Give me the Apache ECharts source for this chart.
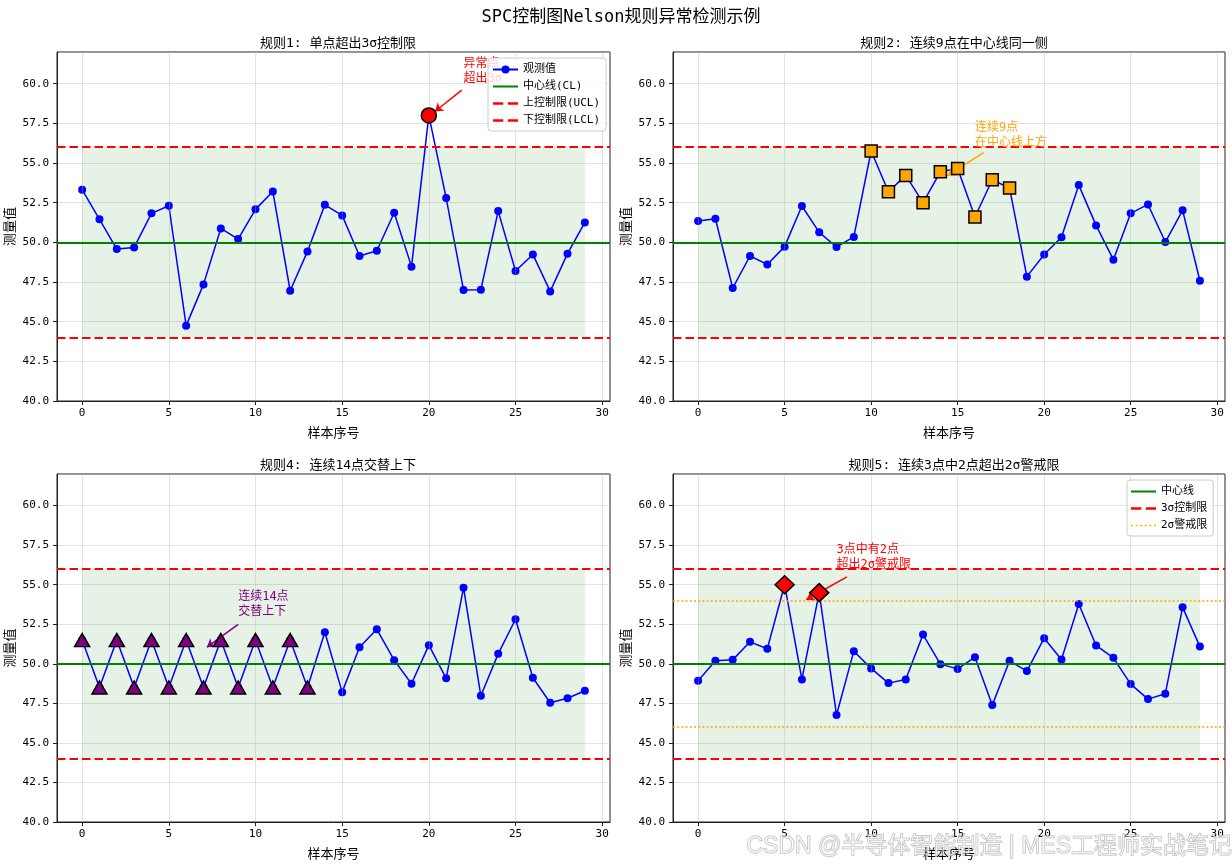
<!DOCTYPE html>
<html>
<head>
    <meta charset="utf-8">
    <title>SPC控制图Nelson规则异常检测示例</title>
    <script src="https://cdn.jsdelivr.net/npm/echarts@6/dist/echarts.min.js"></script>
    <style>
        html, body { margin: 0; padding: 0; background: #fff; }
        #main { width: 1232px; height: 865px; }
    </style>
</head>
<body>
<div id="main"></div>
<script type="text/javascript">
// 控制限
var CL = 50, UCL = 56, LCL = 44, UWL = 54, LWL = 46;

var samples = [0, 1, 2, 3, 4, 5, 6, 7, 8, 9, 10, 11, 12, 13, 14,
               15, 16, 17, 18, 19, 20, 21, 22, 23, 24, 25, 26, 27, 28, 29];
var xTicks = [0, 5, 10, 15, 20, 25, 30];

// 规则1: 单点超出3σ
var rule1Values = [53.32, 51.45, 49.58, 49.68, 51.83, 52.31, 44.75, 47.35, 50.88, 50.21,
                   52.08, 53.21, 46.95, 49.43, 52.37, 51.70, 49.14, 49.47, 51.87, 48.47,
                   58.0, 52.79, 47.0, 47.02, 51.97, 48.19, 49.24, 46.91, 49.29, 51.26];
var rule1Marks = [20];

// 规则2: 连续9点在中心线同一侧
var rule2Values = [51.34, 51.49, 47.12, 49.14, 48.61, 49.73, 52.29, 50.63, 49.71, 50.34,
                   55.76, 53.19, 54.22, 52.5, 54.45, 54.66, 51.6, 53.95, 53.42, 47.84,
                   49.24, 50.32, 53.61, 51.07, 48.91, 51.83, 52.39, 50.02, 52.02, 47.58];
var rule2Marks = [10, 11, 12, 13, 14, 15, 16, 17, 18];

// 规则4: 连续14点交替上下
var rule4Values = [51.5, 48.5, 51.5, 48.5, 51.5, 48.5, 51.5, 48.5, 51.5, 48.5,
                   51.5, 48.5, 51.5, 48.5, 52.0, 48.21, 51.05, 52.18, 50.23, 48.74,
                   51.18, 49.08, 54.81, 47.98, 50.63, 52.82, 49.12, 47.54, 47.82, 48.30];
var rule4Marks = [0, 1, 2, 3, 4, 5, 6, 7, 8, 9, 10, 11, 12, 13];

// 规则5: 连续3点中2点超出2σ
var rule5Values = [48.93, 50.19, 50.25, 51.39, 50.95, 55.0, 49.01, 54.5, 46.76, 50.8,
                   49.71, 48.78, 49.01, 51.85, 49.98, 49.68, 50.42, 47.39, 50.19, 49.54,
                   51.62, 50.27, 53.78, 51.16, 50.38, 48.72, 47.77, 48.11, 53.57, 51.09];
var rule5Marks = [5, 7];

var FONT = '"DejaVu Sans Mono", "Noto Sans CJK SC", sans-serif';
var DASH = [8.5, 4];
var DOT = [2, 2.2];
var GRID_LINE = 'rgba(176,176,176,0.35)';

// 图例图标
var ICON_SOLID = 'path://M0,0h25v2h-25z';
var ICON_DASH = 'path://M0,0h9v2h-9z M13,0h9v2h-9z';
var ICON_DOT = 'path://M0,0h1.5v1.5h-1.5z M4,0h1.5v1.5h-1.5z M8,0h1.5v1.5h-1.5z M12,0h1.5v1.5h-1.5z M16,0h1.5v1.5h-1.5z M20,0h1.5v1.5h-1.5z';

var myChart = echarts.init(document.getElementById('main'));

function pts(vals) {
    return samples.map(function (x, k) { return [x, vals[k]]; });
}
function pick(vals, idx) {
    return idx.map(function (k) { return [samples[k], vals[k]]; });
}

var grids = [
    { left: 57, top: 52, width: 553, height: 349 },
    { left: 673, top: 52, width: 552, height: 349 },
    { left: 57, top: 474, width: 553, height: 348 },
    { left: 673, top: 474, width: 552, height: 348 }
];
grids.forEach(function (g) {
    g.show = true;
    g.borderColor = '#222';
    g.borderWidth = 1;
    g.backgroundColor = 'transparent';
});

var xAxes = [], yAxes = [];
for (var i = 0; i < 4; i++) {
    xAxes.push({
        type: 'value', gridIndex: i, min: -1.45, max: 30.45,
        name: '样本序号', nameLocation: 'middle', nameGap: 26,
        nameTextStyle: { fontFamily: FONT, fontSize: 13, color: '#000' },
        axisLine: { onZero: false, lineStyle: { color: '#222' } },
        axisTick: { show: true, length: 4, customValues: xTicks, lineStyle: { color: '#222' } },
        axisLabel: { fontFamily: FONT, fontSize: 11, color: '#000', margin: 7,
                     customValues: xTicks },
        splitLine: { show: false }
    });
    yAxes.push({
        type: 'value', gridIndex: i, min: 40, max: 62, interval: 2.5,
        name: '测量值', nameLocation: 'middle', nameGap: 40, nameRotate: 90,
        nameTextStyle: { fontFamily: FONT, fontSize: 13, color: '#000' },
        axisLine: { show: true, onZero: false, lineStyle: { color: '#222' } },
        axisTick: { show: true, length: 4, lineStyle: { color: '#222' } },
        axisLabel: { fontFamily: FONT, fontSize: 11, color: '#000', margin: 8,
                     showMaxLabel: false,
                     formatter: function (v) { return v.toFixed(1); } },
        splitLine: { show: true, lineStyle: { color: GRID_LINE, width: 1 } }
    });
}

// 竖向网格线
function vgrid(i) {
    return {
        name: 'vgrid' + i, type: 'line', xAxisIndex: i, yAxisIndex: i, data: [],
        symbol: 'none', z: 1,
        markLine: {
            silent: true, symbol: ['none', 'none'], label: { show: false },
            lineStyle: { color: GRID_LINE, type: 'solid', width: 1 },
            data: xTicks.map(function (v) { return { xAxis: v }; })
        }
    };
}

function observed(i, name, vals, note) {
    return {
        name: name, type: 'line', xAxisIndex: i, yAxisIndex: i,
        data: pts(vals),
        symbol: 'circle', symbolSize: 8, showAllSymbol: true,
        itemStyle: { color: '#0000ff' },
        lineStyle: { color: '#0000ff', width: 1.5 },
        z: 3,
        markArea: {
            silent: true,
            itemStyle: { color: 'rgba(0,128,0,0.1)' },
            data: [[{ coord: [samples[0], LCL] }, { coord: [samples[samples.length - 1], UCL] }]]
        },
        markLine: {
            silent: true, symbol: ['none', 'arrow'], symbolSize: 8,
            label: { show: false },
            lineStyle: { color: note.color, width: 1.5, type: 'solid' },
            data: [[{ coord: note.from }, { coord: note.to }]]
        },
        markPoint: {
            silent: true, symbol: 'circle', symbolSize: 0,
            label: {
                show: true, position: [0, 3], align: 'left', verticalAlign: 'bottom',
                color: note.color, fontFamily: FONT, fontSize: 12, lineHeight: 15,
                formatter: note.text
            },
            data: [{ coord: note.at }]
        }
    };
}

function hline(i, name, values, color, type, width) {
    return {
        name: name, type: 'line', xAxisIndex: i, yAxisIndex: i, data: [],
        symbol: 'none', itemStyle: { color: color },
        lineStyle: { color: color, type: type, width: width },
        z: 2,
        markLine: {
            silent: true, symbol: ['none', 'none'], label: { show: false },
            lineStyle: { color: color, type: type, width: width },
            data: values.map(function (v) { return { yAxis: v }; })
        }
    };
}

function marks(i, name, data, symbol, size, color) {
    return {
        name: name, type: 'scatter', xAxisIndex: i, yAxisIndex: i,
        data: data, symbol: symbol, symbolSize: size, z: 5,
        itemStyle: { color: color, borderColor: '#000', borderWidth: 1.5, opacity: 1 }
    };
}

var series = [
    vgrid(0), vgrid(1), vgrid(2), vgrid(3),

    // 规则1
    observed(0, '观测值', rule1Values, {
        color: '#ff0000', text: '异常点\n超出3σ', at: [22, 60],
        from: [21.9, 59.6], to: [20.35, 58.25]
    }),
    hline(0, '中心线(CL)', [CL], '#008000', 'solid', 2),
    hline(0, '上控制限(UCL)', [UCL], '#ff0000', DASH, 2),
    hline(0, '下控制限(LCL)', [LCL], '#ff0000', DASH, 2),
    marks(0, '异常点1', pick(rule1Values, rule1Marks), 'circle', 15, '#ff0000'),

    // 规则2
    observed(1, '观测值2', rule2Values, {
        color: '#ffa500', text: '连续9点\n在中心线上方', at: [16, 56],
        from: [16.5, 55.65], to: [14.4, 54.2]
    }),
    hline(1, 'CL2', [CL], '#008000', 'solid', 2),
    hline(1, 'CTRL2', [UCL, LCL], '#ff0000', DASH, 2),
    marks(1, '异常点2', pick(rule2Values, rule2Marks), 'rect', 12, '#ffa500'),

    // 规则4
    observed(2, '观测值3', rule4Values, {
        color: '#800080', text: '连续14点\n交替上下', at: [9, 53],
        from: [9.0, 52.5], to: [7.2, 51.05]
    }),
    hline(2, 'CL3', [CL], '#008000', 'solid', 2),
    hline(2, 'CTRL3', [UCL, LCL], '#ff0000', DASH, 2),
    marks(2, '异常点3', pick(rule4Values, rule4Marks), 'triangle', [15, 13], '#800080'),

    // 规则5
    observed(3, '观测值4', rule5Values, {
        color: '#ff0000', text: '3点中有2点\n超出2σ警戒限', at: [8, 56],
        from: [8.6, 55.5], to: [6.25, 54.05]
    }),
    hline(3, '中心线', [CL], '#008000', 'solid', 2),
    hline(3, '3σ控制限', [UCL, LCL], '#ff0000', DASH, 2),
    hline(3, '2σ警戒限', [UWL, LWL], '#ffa500', DOT, 1.6),
    marks(3, '异常点4', pick(rule5Values, rule5Marks), 'diamond', [19, 18], '#ff0000')
];

function subTitle(text, cx, top) {
    return {
        text: text, left: cx, top: top, textAlign: 'center',
        textStyle: { fontFamily: FONT, fontSize: 13, fontWeight: 'normal', color: '#000' }
    };
}

function legendItem(name, icon, color) {
    return { name: name, icon: icon, itemStyle: { color: color, borderWidth: 0 } };
}

var legendBase = {
    orient: 'vertical', backgroundColor: 'rgba(255,255,255,0.8)',
    borderColor: '#cccccc', borderWidth: 1, borderRadius: 3,
    padding: [5, 6, 4, 4], itemGap: 4, itemWidth: 25, itemHeight: 10,
    textStyle: { fontFamily: FONT, fontSize: 11, color: '#000', lineHeight: 13 },
    selectedMode: false, z: 10
};

var option = {
    animation: false,
    backgroundColor: '#fff',
    title: [
        { text: 'SPC控制图Nelson规则异常检测示例', left: 616, top: 4, textAlign: 'center',
          textStyle: { fontFamily: FONT, fontSize: 17, fontWeight: 'normal', color: '#000' } },
        subTitle('规则1: 单点超出3σ控制限', 333, 32),
        subTitle('规则2: 连续9点在中心线同一侧', 949, 32),
        subTitle('规则4: 连续14点交替上下', 333, 454),
        subTitle('规则5: 连续3点中2点超出2σ警戒限', 949, 454)
    ],
    legend: [
        Object.assign({}, legendBase, {
            left: 488, top: 58,
            data: [
                '观测值',
                legendItem('中心线(CL)', ICON_SOLID, '#008000'),
                legendItem('上控制限(UCL)', ICON_DASH, '#ff0000'),
                legendItem('下控制限(LCL)', ICON_DASH, '#ff0000')
            ]
        }),
        Object.assign({}, legendBase, {
            left: 1127, top: 480,
            data: [
                legendItem('中心线', ICON_SOLID, '#008000'),
                legendItem('3σ控制限', ICON_DASH, '#ff0000'),
                legendItem('2σ警戒限', ICON_DOT, '#ffa500')
            ]
        })
    ],
    grid: grids,
    xAxis: xAxes,
    yAxis: yAxes,
    series: series,
    graphic: [{
        type: 'text', x: 1232, y: 847, z: 100, silent: true,
        style: {
            text: 'CSDN @半导体智能制造 | MES工程师实战笔记',
            align: 'right', verticalAlign: 'middle',
            font: '23px "Liberation Sans", "Noto Sans CJK SC", sans-serif',
            fill: 'rgba(255,255,255,0.6)', stroke: 'rgba(120,120,120,0.55)', lineWidth: 1
        }
    }]
};

myChart.setOption(option);
</script>
</body>
</html>
